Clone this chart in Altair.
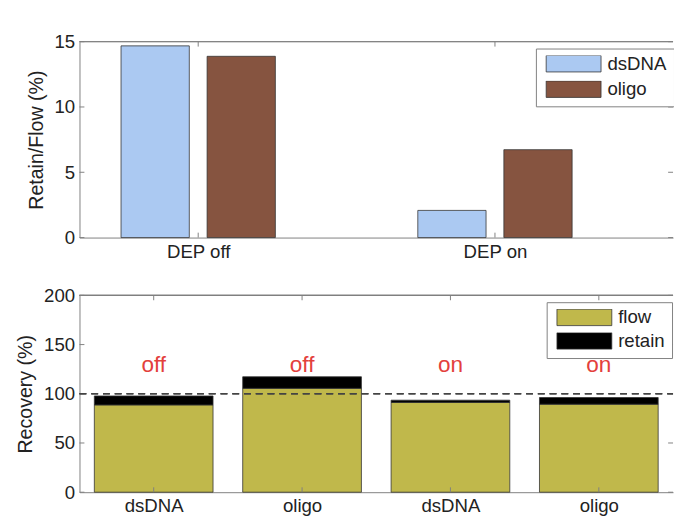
import json
import altair as alt
import pandas as pd

# ---------------- data ----------------
groups = ["DEP off", "DEP on"]
group_pos = [1, 2]
ratio_series = ["dsDNA", "oligo"]
dsDNA_ratio = [14.68, 2.08]
oligo_ratio = [13.88, 6.73]
ratio_colors = ["#abc9f2", "#865440"]
ratio_ticks = [0, 5, 10, 15]

samples = ["dsDNA", "oligo", "dsDNA", "oligo"]
sample_pos = [1, 2, 3, 4]
flow = [88.7, 105.5, 91.2, 89.4]
retain = [9.1, 11.8, 2.3, 6.8]
dep_state = ["off", "off", "on", "on"]
rec_series = ["flow", "retain"]
rec_colors = ["#c0b84b", "#000000"]
rec_ticks = [0, 50, 100, 150, 200]

FONT = "Liberation Sans"
W = 606
H1 = 200
H2 = 201
RECT = "M-1,-0.3L1,-0.3L1,0.3L-1,0.3Z"


def legend(lx, ly, rowpad):
    return alt.Legend(orient="none", legendX=lx, legendY=ly, title=None,
                      symbolType=RECT, symbolSize=3136, symbolOffset=3,
                      symbolStrokeColor="#333333", symbolStrokeWidth=0.8,
                      symbolOpacity=1, clipHeight=17, rowPadding=rowpad,
                      labelOffset=6, labelFontSize=19, labelFont=FONT,
                      labelColor="#222222", strokeColor="#808080",
                      fillColor="white", padding=7)


# ---------------- top panel ----------------
top_rows = []
for g, p, a, b in zip(groups, group_pos, dsDNA_ratio, oligo_ratio):
    top_rows.append({"group": g, "pos": p, "series": "dsDNA", "value": a})
    top_rows.append({"group": g, "pos": p, "series": "oligo", "value": b})
top_df = pd.DataFrame(top_rows)

x_top = alt.Scale(domain=[0.6, 2.6], nice=False, zero=False)
y_top = alt.Scale(domain=[0, 15], nice=False)
x_top_axis = alt.Axis(values=group_pos, title=None, labelPadding=5,
                      labelExpr=json.dumps(groups) + "[datum.value - 1]")
y_top_axis = alt.Axis(values=ratio_ticks, title="Retain/Flow (%)")

top_bars = alt.Chart(top_df).transform_calculate(
    off="datum.series == 'dsDNA' ? -0.145 : 0.145"
).transform_calculate(
    x0="datum.pos + datum.off - 0.115", x1="datum.pos + datum.off + 0.115"
).mark_bar(stroke="#333333", strokeWidth=0.8).encode(
    x=alt.X("x0:Q", scale=x_top, axis=x_top_axis),
    x2="x1:Q",
    y=alt.Y("value:Q", scale=y_top, axis=y_top_axis),
    y2=alt.datum(0),
    color=alt.Color("series:N", scale=alt.Scale(domain=ratio_series, range=ratio_colors),
                    legend=legend(466, 7, 6)),
)

yt_df = pd.DataFrame({"v": ratio_ticks})
xt_df = pd.DataFrame({"v": group_pos})
top_lt = alt.Chart(yt_df).mark_rule(color="#808080").encode(
    y=alt.Y("v:Q", scale=y_top, axis=y_top_axis), x=alt.value(0), x2=alt.value(5))
top_rt = alt.Chart(yt_df).mark_rule(color="#808080").encode(
    y=alt.Y("v:Q", scale=y_top, axis=y_top_axis), x=alt.value(W - 5), x2=alt.value(W))
top_bt = alt.Chart(xt_df).mark_rule(color="#808080").encode(
    x=alt.X("v:Q", scale=x_top, axis=x_top_axis), y=alt.value(H1), y2=alt.value(H1 - 5))
top_tt = alt.Chart(xt_df).mark_rule(color="#808080").encode(
    x=alt.X("v:Q", scale=x_top, axis=x_top_axis), y=alt.value(0), y2=alt.value(5))
top_border = alt.Chart(xt_df).mark_rule(color="#808080").encode(
    y=alt.value(0), x=alt.value(0), x2=alt.value(W))

top = alt.layer(top_bars, top_lt, top_rt, top_bt, top_tt, top_border).properties(
    width=W, height=H1)

# ---------------- bottom panel ----------------
bot_df = pd.DataFrame({"pos": sample_pos, "sample": samples, "flow": flow,
                       "retain": retain, "state": dep_state})

x_bot = alt.Scale(domain=[0.5, 4.5], nice=False, zero=False)
y_bot = alt.Scale(domain=[0, 200], nice=False)
x_bot_axis = alt.Axis(values=sample_pos, title=None, labelPadding=5,
                      labelExpr=json.dumps(samples) + "[datum.value - 1]")
y_bot_axis = alt.Axis(values=rec_ticks, title="Recovery (%)")

bot_bars = alt.Chart(bot_df).transform_fold(
    ["flow", "retain"], as_=["series", "amount"]
).transform_calculate(
    x0="datum.pos - 0.4", x1="datum.pos + 0.4",
    y0="datum.series == 'flow' ? 0 : datum.flow",
    y1="datum.series == 'flow' ? datum.flow : datum.flow + datum.retain",
).mark_bar(stroke="#333333", strokeWidth=0.8).encode(
    x=alt.X("x0:Q", scale=x_bot, axis=x_bot_axis),
    x2="x1:Q",
    y=alt.Y("y0:Q", scale=y_bot, axis=y_bot_axis),
    y2="y1:Q",
    color=alt.Color("series:N", scale=alt.Scale(domain=rec_series, range=rec_colors),
                    legend=legend(477, 7, 4)),
)

dash = alt.Chart(bot_df).mark_rule(color="#444444", strokeDash=[7, 5], strokeWidth=1).encode(
    y=alt.Y("h:Q", scale=y_bot, axis=y_bot_axis), x=alt.value(0), x2=alt.value(W)
).transform_calculate(h="100")

state_text = alt.Chart(bot_df).transform_calculate(ty="122").mark_text(
    color="#e3403c", fontSize=23, font=FONT, baseline="alphabetic"
).encode(x=alt.X("pos:Q", scale=x_bot, axis=x_bot_axis),
         y=alt.Y("ty:Q", scale=y_bot, axis=y_bot_axis), text="state:N")

yb_df = pd.DataFrame({"v": rec_ticks})
xb_df = pd.DataFrame({"v": sample_pos})
bot_lt = alt.Chart(yb_df).mark_rule(color="#808080").encode(
    y=alt.Y("v:Q", scale=y_bot, axis=y_bot_axis), x=alt.value(0), x2=alt.value(5))
bot_rt = alt.Chart(yb_df).mark_rule(color="#808080").encode(
    y=alt.Y("v:Q", scale=y_bot, axis=y_bot_axis), x=alt.value(W - 5), x2=alt.value(W))
bot_bt = alt.Chart(xb_df).mark_rule(color="#808080").encode(
    x=alt.X("v:Q", scale=x_bot, axis=x_bot_axis), y=alt.value(H2), y2=alt.value(H2 - 5))
bot_tt = alt.Chart(xb_df).mark_rule(color="#808080").encode(
    x=alt.X("v:Q", scale=x_bot, axis=x_bot_axis), y=alt.value(0), y2=alt.value(5))
bot_border = alt.Chart(xb_df).mark_rule(color="#808080").encode(
    y=alt.value(0), x=alt.value(0), x2=alt.value(W))

bottom = alt.layer(bot_bars, bot_lt, bot_rt, bot_bt, bot_tt, bot_border, dash,
                   state_text).properties(width=W, height=H2)

chart = alt.vconcat(top, bottom, spacing=26).resolve_scale(
    x="independent", y="independent", color="independent"
).resolve_legend(color="independent").properties(
    padding={"top": 20, "left": 8, "right": -1, "bottom": 0},
    background="white",
).configure_view(stroke=None).configure_axis(
    labelFont=FONT, labelFontSize=19, labelColor="#222222", ticks=False,
    domainColor="#808080", domainWidth=1, labelPadding=5, grid=False,
    titleFont=FONT, titleFontSize=20, titleFontWeight="normal", titleColor="#222222",
    titlePadding=8,
)

chart.save("out.html", embed_options={"renderer": "svg", "actions": False})
